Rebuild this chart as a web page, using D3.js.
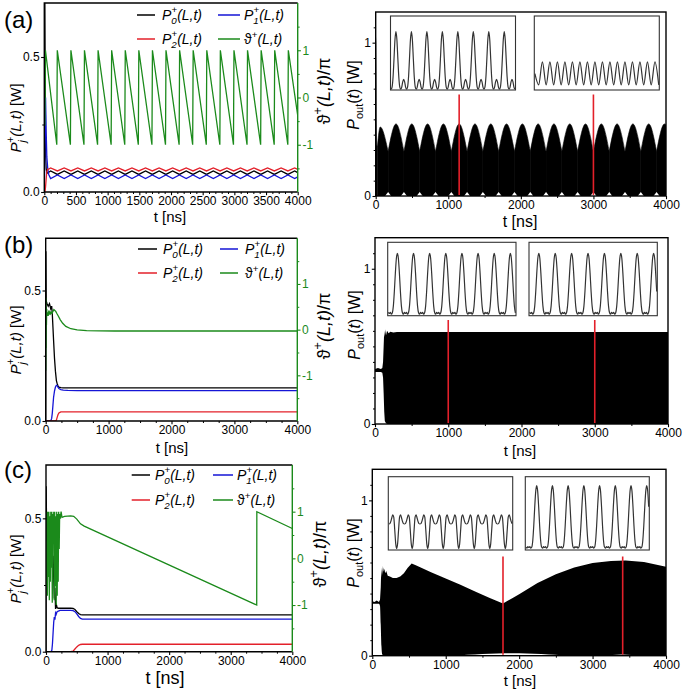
<!DOCTYPE html>
<html><head><meta charset="utf-8">
<script src="https://cdn.jsdelivr.net/npm/d3@7"></script>
<style>body{margin:0;background:#fff}svg{display:block}</style>
</head><body><svg id="c" width="685" height="694"></svg>
<script>
// ================= DATA =================
// ---- panel (a) left ----
const aTimeP = [0,4,8,14,20,30,40,55,70,100,207,314,421,528,635,742,849,956,1063,1170,1277,1384,1491,1598,1705,1812,1919,2026,2133,2240,2347,2454,2561,2668,2775,2882,2989,3096,3203,3310,3417,3524,3631,3738,3845,3952,4000];
const aP0 = [0,0.76,0.76,0.45,0.14,0.085,0.072,0.07,0.073,0.078,0.065,0.078,0.065,0.078,0.065,0.078,0.065,0.078,0.065,0.078,0.065,0.078,0.065,0.078,0.065,0.078,0.065,0.078,0.065,0.078,0.065,0.078,0.065,0.078,0.065,0.078,0.065,0.078,0.065,0.078,0.065,0.078,0.065,0.078,0.065,0.078,0.072];
const aP1 = [0,0.05,0.15,0.3,0.35,0.22,0.13,0.085,0.065,0.05,0.063,0.05,0.063,0.05,0.063,0.05,0.063,0.05,0.063,0.05,0.063,0.05,0.063,0.05,0.063,0.05,0.063,0.05,0.063,0.05,0.063,0.05,0.063,0.05,0.063,0.05,0.063,0.05,0.063,0.05,0.063,0.05,0.063,0.05,0.063,0.05,0.056];
const aP2 = [0,0,0,0.005,0.02,0.05,0.075,0.085,0.085,0.089,0.078,0.089,0.078,0.089,0.078,0.089,0.078,0.089,0.078,0.089,0.078,0.089,0.078,0.089,0.078,0.089,0.078,0.089,0.078,0.089,0.078,0.089,0.078,0.089,0.078,0.089,0.078,0.089,0.078,0.089,0.078,0.089,0.078,0.089,0.078,0.089,0.084];
const aTimeTh = [0,5,10,18,197,205,412,420,626,634,841,849,1055,1063,1270,1278,1484,1492,1699,1707,1913,1921,2128,2136,2342,2350,2557,2565,2771,2779,2986,2994,3200,3208,3415,3423,3629,3637,3844,3852,4000];
const aTheta = [-0.2,0.9,-0.6,1,-1,1,-1,1,-1,1,-1,1,-1,1,-1,1,-1,1,-1,1,-1,1,-1,1,-1,1,-1,1,-1,1,-1,1,-1,1,-1,1,-1,1,-1,1,-0.38];

// ---- panel (b) left ----
const bTimeP = [0,3,8,20,40,60,80,95,105,115,125,140,155,170,180,195,210,240,280,350,500,4000];
const bP0 = [0,0.65,0.46,0.45,0.44,0.45,0.43,0.44,0.41,0.36,0.31,0.24,0.19,0.155,0.145,0.135,0.13,0.128,0.127,0.127,0.127,0.127];
const bP1 = [0,0,0,0,0,0,0,0.01,0.03,0.06,0.09,0.115,0.13,0.137,0.136,0.13,0.124,0.12,0.118,0.117,0.116,0.116];
const bP2 = [0,0,0,0,0,0,0,0,0,0,0,0,0,0.003,0.012,0.024,0.031,0.035,0.035,0.035,0.035,0.035];
const bTimeTh = [0,3,6,9,12,16,20,30,40,50,60,70,80,90,100,115,130,145,160,175,200,230,270,320,400,500,650,850,1100,4000];
const bTheta = [-0.9,0.7,-0.4,0.5,0.1,0.45,0.3,0.38,0.3,0.42,0.33,0.4,0.35,0.38,0.36,0.4,0.44,0.42,0.4,0.36,0.3,0.22,0.14,0.07,0.02,-0.005,-0.02,-0.027,-0.03,-0.03];

// ---- panel (c) left ----
const cTimeP = [0,3,10,20,40,60,80,95,105,115,125,135,145,155,165,180,200,230,300,400,440,470,500,530,560,590,620,4000];
const cP0 = [0,0.62,0.45,0.42,0.4,0.38,0.37,0.36,0.34,0.36,0.28,0.2,0.24,0.16,0.18,0.165,0.163,0.163,0.163,0.163,0.162,0.158,0.15,0.143,0.139,0.138,0.138,0.138];
const cP1 = [0,0,0,0,0,0,0,0.005,0.03,0.07,0.11,0.13,0.12,0.145,0.14,0.15,0.152,0.155,0.155,0.155,0.154,0.15,0.142,0.132,0.125,0.122,0.122,0.122];
const cP2 = [0,0,0,0,0,0,0,0,0,0,0,0,0,0,0,0,0,0,0,0,0.002,0.01,0.018,0.024,0.027,0.028,0.028,0.028];
const cTimeTh = [0,8,15,22,30,38,46,54,62,70,78,86,94,102,110,118,126,134,142,150,158,166,174,182,190,198,206,214,222,232,245,260,300,400,450,500,560,620,3422,3424,4000];
const cTheta = [0.2,-0.6,1,-0.8,1,-0.4,1,-0.9,0.9,-0.5,1,-0.2,1,-0.95,0.95,0.3,1,-0.9,1,-0.6,0.9,-1,1,-0.8,0.95,-0.5,1,0.2,0.95,0.85,1,0.88,0.9,0.91,0.9,0.84,0.74,0.69,-1,1,0.64];

// ---- panel (a) right : output power envelope ----
const aSpikeT = [0,3,6,9,12,16,25];
const aSpikeV = [0.05,0.5,1.04,1.0,0.5,0.33,0.33];
const aHumpT = [25,62,171,280,389,497,606,715,824,933,1042,1150,1259,1368,1477,1586,1694,1803,1912,2021,2130,2238,2347,2456,2565,2674,2782,2891,3000,3109,3218,3326,3435,3544,3653,3762,3870,3979,4000];
const aHumpV = [0.33,0.45,0.29,0.47,0.29,0.47,0.29,0.47,0.29,0.47,0.29,0.47,0.29,0.47,0.29,0.47,0.29,0.47,0.29,0.47,0.29,0.47,0.29,0.47,0.29,0.47,0.29,0.47,0.29,0.47,0.29,0.47,0.29,0.47,0.29,0.47,0.29,0.47,0.465];
const aBumpT = [171,389,606,824,1042,1259,1477,1694,1912,2130,2347,2565,2782,3000,3218,3435,3653,3870];
const aBumpV = [0.026,0.026,0.026,0.026,0.026,0.026,0.026,0.026,0.026,0.026,0.026,0.026,0.026,0.026,0.026,0.026,0.026,0.026];
const aRedT = [1150,3000];

// ---- panel (b) right ----
const bUpT = [0,40,80,100,110,118,126,134,142,150,165,185,210,250,300,4000];
const bUpV = [0.355,0.36,0.355,0.36,0.4,0.5,0.6,0.56,0.61,0.57,0.6,0.585,0.595,0.59,0.593,0.593];
const bLoT = [0,40,80,100,110,118,126,134,150,170,4000];
const bLoV = [0.335,0.335,0.335,0.33,0.3,0.2,0.08,0.02,0.005,0,0];
const bRedT = [1000,3000];

// ---- panel (c) right ----
const cUpT = [0,30,60,90,105,115,122,128,134,140,148,156,165,175,190,210,240,280,330,380,430,480,536,600,800,1000,1200,1400,1600,1780,1850,1900,2000,2250,2500,2750,3000,3250,3450,3700,4000];
const cUpV = [0.35,0.345,0.355,0.345,0.36,0.44,0.57,0.5,0.58,0.52,0.57,0.54,0.56,0.53,0.545,0.515,0.51,0.5,0.5,0.51,0.53,0.565,0.593,0.58,0.538,0.497,0.456,0.414,0.372,0.336,0.355,0.368,0.395,0.468,0.525,0.568,0.596,0.61,0.613,0.603,0.572];
const cLoT = [0,90,105,115,125,135,150,1000,1400,1800,2000,2400,2750,3150,3400,3650,4000];
const cLoV = [0.335,0.335,0.32,0.2,0.06,0.01,0,0,0.008,0.016,0.016,0.008,0,0,0.007,0,0];
const cRedT = [1780,3410];

// ---- inset waveforms (box-relative amplitude, equally spaced samples) ----
const insetAL = [0.01,0.04,0.17,0.42,0.68,
0.79,0.68,0.42,0.17,0.04,0.01,0.04,0.11,0.145,0.11,0.04,0.01,0.04,0.17,0.42,0.68,
0.79,0.68,0.42,0.17,0.04,0.01,0.04,0.11,0.145,0.11,0.04,0.01,0.04,0.17,0.42,0.68,
0.79,0.68,0.42,0.17,0.04,0.01,0.04,0.11,0.145,0.11,0.04,0.01,0.04,0.17,0.42,0.68,
0.79,0.68,0.42,0.17,0.04,0.01,0.04,0.11,0.145,0.11,0.04,0.01,0.04,0.17,0.42,0.68,
0.79,0.68,0.42,0.17,0.04,0.01,0.04,0.11,0.145,0.11,0.04,0.01,0.04,0.17,0.42,0.68,
0.79,0.68,0.42,0.17,0.04,0.01,0.04,0.11,0.145,0.11,0.04,0.01,0.04,0.17,0.42,0.68,
0.79,0.68,0.42,0.17,0.04,0.01,0.04,0.11,0.145,0.11,0.04,0.01,0.04,0.17,0.42,0.68,
0.79,0.68,0.42,0.17,0.04,0.01,0.04,0.11,0.145,0.11,0.04,0.01];
const insetAR = [0.22,0.07,0.38,0.07,0.38,0.07,0.38,0.07,0.38,0.07,0.38,0.07,0.38,0.07,0.38,0.07,0.38,0.07,0.38,0.07,0.38,0.07,0.38,0.07,0.38,0.07,0.38,0.07,0.38,0.07,0.38,0.07,0.38,0.07];
const insetBL = [0.045,0.03,0.045,0.02,0.04,0.13,0.33,0.58,0.78,
0.85,0.78,0.58,0.33,0.13,0.04,0.02,0.045,0.03,0.045,0.02,0.04,0.13,0.33,0.58,0.78,
0.85,0.78,0.58,0.33,0.13,0.04,0.02,0.045,0.03,0.045,0.02,0.04,0.13,0.33,0.58,0.78,
0.85,0.78,0.58,0.33,0.13,0.04,0.02,0.045,0.03,0.045,0.02,0.04,0.13,0.33,0.58,0.78,
0.85,0.78,0.58,0.33,0.13,0.04,0.02,0.045,0.03,0.045,0.02,0.04,0.13,0.33,0.58,0.78,
0.85,0.78,0.58,0.33,0.13,0.04,0.02,0.045,0.03,0.045,0.02,0.04,0.13,0.33,0.58,0.78,
0.85,0.78,0.58,0.33,0.13,0.04,0.02,0.045,0.03,0.045,0.02,0.04,0.13,0.33,0.58,0.78,
0.85,0.78,0.58,0.33,0.13,0.04,0.02,0.045,0.03,0.045,0.02,0.04,0.13,0.33,0.58,0.78,
0.85,0.78,0.58,0.33,0.13,0.04];
const insetBR = [0.045,0.03,0.045,0.02,0.04,0.13,0.33,0.58,0.78,
0.85,0.78,0.58,0.33,0.13,0.04,0.02,0.045,0.03,0.045,0.02,0.04,0.13,0.33,0.58,0.78,
0.85,0.78,0.58,0.33,0.13,0.04,0.02,0.045,0.03,0.045,0.02,0.04,0.13,0.33,0.58,0.78,
0.85,0.78,0.58,0.33,0.13,0.04,0.02,0.045,0.03,0.045,0.02,0.04,0.13,0.33,0.58,0.78,
0.85,0.78,0.58,0.33,0.13,0.04,0.02,0.045,0.03,0.045,0.02,0.04,0.13,0.33,0.58,0.78,
0.85,0.78,0.58,0.33,0.13,0.04,0.02,0.045,0.03,0.045,0.02,0.04,0.13,0.33,0.58,0.78,
0.85,0.78,0.58,0.33,0.13,0.04,0.02,0.045,0.03,0.045,0.02,0.04,0.13,0.33,0.58,0.78,
0.85,0.78,0.58,0.33,0.13,0.04,0.02,0.045,0.03,0.045,0.02,0.04,0.13,0.33,0.58,0.78,
0.85,0.78,0.58,0.33];
const insetCL = [0.355,0.36,0.39,0.44,0.48,0.45,0.28,0.09,
0.02,0.09,0.28,0.45,0.48,0.44,0.39,0.36,0.355,0.36,0.39,0.44,0.48,0.45,0.28,0.09,
0.02,0.09,0.28,0.45,0.48,0.44,0.39,0.36,0.355,0.36,0.39,0.44,0.48,0.45,0.28,0.09,
0.02,0.09,0.28,0.45,0.48,0.44,0.39,0.36,0.355,0.36,0.39,0.44,0.48,0.45,0.28,0.09,
0.02,0.09,0.28,0.45,0.48,0.44,0.39,0.36,0.355,0.36,0.39,0.44,0.48,0.45,0.28,0.09,
0.02,0.09,0.28,0.45,0.48,0.44,0.39,0.36,0.355,0.36,0.39,0.44,0.48,0.45,0.28,0.09,
0.02,0.09,0.28,0.45,0.48,0.44,0.39,0.36,0.355,0.36,0.39,0.44,0.48,0.45,0.28,0.09,
0.02,0.09,0.28,0.45,0.48,0.44,0.39,0.36,0.355,0.36,0.39,0.44,0.48,0.45,0.28,0.09,
0.02,0.09,0.28,0.45,0.48,0.44,0.39,0.36];
const insetCR = [0.04,0.025,0.045,0.035,0.045,0.025,0.04,0.13,0.33,0.59,0.80,
0.88,0.80,0.59,0.33,0.13,0.04,0.025,0.045,0.035,0.045,0.025,0.04,0.13,0.33,0.59,0.80,
0.88,0.80,0.59,0.33,0.13,0.04,0.025,0.045,0.035,0.045,0.025,0.04,0.13,0.33,0.59,0.80,
0.88,0.80,0.59,0.33,0.13,0.04,0.025,0.045,0.035,0.045,0.025,0.04,0.13,0.33,0.59,0.80,
0.88,0.80,0.59,0.33,0.13,0.04,0.025,0.045,0.035,0.045,0.025,0.04,0.13,0.33,0.59,0.80,
0.88,0.80,0.59,0.33,0.13,0.04,0.025,0.045,0.035,0.045,0.025,0.04,0.13,0.33,0.59,0.80,
0.88,0.80,0.59,0.33,0.13,0.04,0.025,0.045,0.035,0.045,0.025,0.04,0.13,0.33,0.59,0.80,
0.88,0.80,0.59,0.33,0.13,0.04,0.025,0.045,0.035,0.045,0.025,0.04,0.13,0.33,0.59,0.80,
0.88,0.80,0.59];

// tick values
const leftYMajor = [0,0.5], leftYMinor = [0.25];
const thetaMajor = [-1,0,1], thetaMinor = [-1.5,-0.5,0.5,1.5];
const xMajorA = [0,500,1000,1500,2000,2500,3000,3500,4000];
const xMajor = [0,1000,2000,3000,4000];
const rightYMajor = [0,1];

// ================= DRAWING =================
const FONT = '"Liberation Sans", Arial, Helvetica, sans-serif';
const BLACK='#000', BLUE='#1515d6', RED='#e3202a', GREEN='#1b8a1b';
const svg = d3.select('#c').style('font-family', FONT);
const defs = svg.append('defs');
let clipN = 0;
function clip(x0,y0,x1,y1){const id='cl'+(clipN++);defs.append('clipPath').attr('id',id).append('rect').attr('x',x0).attr('y',y0).attr('width',x1-x0).attr('height',y1-y0);return `url(#${id})`;}

function axis(g, gen, scale, major, minor, fmt, tr, color){
  if(minor.length){
    const m=g.append('g').attr('transform',tr).call(gen(scale).tickValues(minor).tickSize(2).tickFormat(''));
    m.select('.domain').remove(); m.selectAll('line').attr('stroke',color).attr('stroke-width',1);
  }
  const a=g.append('g').attr('transform',tr).call(gen(scale).tickValues(major).tickSize(3.2).tickPadding(1.5).tickFormat(fmt));
  a.select('.domain').remove();
  a.selectAll('line').attr('stroke',color).attr('stroke-width',1.1);
  a.selectAll('text').attr('fill',color).style('font-family',FONT).style('font-size','12px');
  return a;
}
const minorRange=(step,maj)=>d3.range(0,4001,step).filter(v=>!maj.includes(v));
const fmtTheta = d => d<0 ? '-'+Math.abs(d) : String(d);

function pLabel(t, sub, size, back){
  t.append('tspan').text('P');
  t.append('tspan').attr('dy',size*0.3).style('font-size',(size*0.7)+'px').text(sub);
  t.append('tspan').attr('dx',-back).attr('dy',-size*0.78).style('font-size',(size*0.7)+'px').style('font-style','normal').text('+');
  t.append('tspan').attr('dy',size*0.48).text('(L,t)');
}
function thLabel(t, size){
  t.append('tspan').style('font-style','normal').text('\u03D1');
  t.append('tspan').attr('dy',-size*0.45).style('font-size',(size*0.7)+'px').style('font-style','normal').text('+');
  t.append('tspan').attr('dy',size*0.45).text('(L,t)');
}

function leftPanel(L, D){
  const x=d3.scaleLinear([0,4000],[L.x0,L.x1]);
  const y=d3.scaleLinear([0,0.7],[L.y1,L.y0]);
  const y2=d3.scaleLinear([-2,2],[L.y1,L.y0]);
  const g=svg.append('g');
  const cp=g.append('g').attr('clip-path',clip(L.x0,L.y0,L.x1,L.y1));
  const mk=(ts,vs,yy)=>d3.line().x((v,i)=>x(ts[i])).y(v=>yy(v))(vs);
  cp.append('path').attr('d',mk(D.tP,D.p0,y)).attr('fill','none').attr('stroke',BLACK).attr('stroke-width',1.3);
  cp.append('path').attr('d',mk(D.tP,D.p1,y)).attr('fill','none').attr('stroke',BLUE).attr('stroke-width',1.3);
  cp.append('path').attr('d',mk(D.tP,D.p2,y)).attr('fill','none').attr('stroke',RED).attr('stroke-width',1.3);
  cp.append('path').attr('d',mk(D.tT,D.th,y2)).attr('fill','none').attr('stroke',GREEN).attr('stroke-width',1.3);
  // axes
  axis(g,d3.axisBottom,x,D.xMaj,minorRange(D.xMin,D.xMaj),d=>d,`translate(0,${L.y1})`,'#000');
  axis(g,d3.axisLeft,y,leftYMajor,leftYMinor,d3.format('.1f'),`translate(${L.x0},0)`,'#000');
  axis(g,d3.axisRight,y2,thetaMajor,thetaMinor,fmtTheta,`translate(${L.x1},0)`,GREEN);
  // frame
  g.append('path').attr('d',`M${L.x1},${L.y0}H${L.x0}V${L.y1}H${L.x1}`).attr('fill','none').attr('stroke','#000').attr('stroke-width',1.4);
  g.append('line').attr('x1',L.x1).attr('x2',L.x1).attr('y1',L.y0).attr('y2',L.y1).attr('stroke',GREEN).attr('stroke-width',1.4);
  // legend
  const lg=L.leg, fs=14;
  const rows=[[lg.r1,lg.c1,BLACK,'0'],[lg.r1,lg.c2,BLUE,'1'],[lg.r2,lg.c1,RED,'2'],[lg.r2,lg.c2,GREEN,'th']];
  rows.forEach(([ry,c,col,s])=>{
    g.append('line').attr('x1',c[0]).attr('x2',c[1]).attr('y1',ry).attr('y2',ry).attr('stroke',col).attr('stroke-width',1.5);
    const t=g.append('text').attr('x',c[2]).attr('y',ry+5).style('font-size',fs+'px').style('font-style','italic').attr('fill','#000');
    if(s==='th') thLabel(t,fs); else pLabel(t,s,fs,5.4);
  });
  // labels
  const yl=g.append('text').attr('transform',`translate(${L.ylx},${L.yly}) rotate(-90)`).attr('text-anchor','middle').style('font-size','15px').style('font-style','italic');
  pLabel(yl,'j',15,2.6);
  yl.append('tspan').style('font-style','normal').text(' [W]');
  const yr=g.append('text').attr('transform',`translate(${L.yrx},${L.yry}) rotate(-90)`).attr('text-anchor','middle').style('font-size','18px').style('font-style','italic');
  thLabel(yr,18);
  yr.append('tspan').style('font-style','normal').text('/\u03C0');
  g.append('text').attr('x',L.xlx).attr('y',L.xly).attr('text-anchor','middle').style('font-size',L.xlfs+'px').text('t [ns]');
  g.append('text').attr('x',4).attr('y',L.tagy).style('font-size','24px').text(L.tag);
}

function inset(g, box, vals){
  g.append('rect').attr('x',box[0]).attr('y',box[1]).attr('width',box[2]-box[0]).attr('height',box[3]-box[1]).attr('fill','#fff').attr('stroke','#333').attr('stroke-width',1.1);
  const ix=d3.scaleLinear([0,vals.length-1],[box[0]+0.6,box[2]-0.6]);
  const iy=d3.scaleLinear([0,1],[box[3],box[1]]);
  g.append('path').attr('clip-path',clip(box[0],box[1],box[2],box[3])).attr('d',d3.line().x((v,i)=>ix(i)).y(v=>iy(v)).curve(d3.curveMonotoneX)(vals)).attr('fill','none').attr('stroke','#333').attr('stroke-width',1.2);
}

function rightPanel(R, D, drawFill){
  const x=d3.scaleLinear([0,4000],[R.x0,R.x1]);
  const y=d3.scaleLinear([0,1.2],[R.y1,R.y0]);
  const g=svg.append('g');
  const cp=g.append('g').attr('clip-path',clip(R.x0,R.y0,R.x1,R.y1));
  drawFill(cp,x,y);
  inset(g,R.boxL,D.insL); inset(g,R.boxR,D.insR);
  D.red.forEach(t=>g.append('line').attr('x1',x(t)).attr('x2',x(t)).attr('y1',R.redTop).attr('y2',y(0)-1).attr('stroke',RED).attr('stroke-width',1.6));
  axis(g,d3.axisBottom,x,xMajor,minorRange(500,xMajor),d=>d,`translate(0,${R.y1})`,'#000');
  axis(g,d3.axisLeft,y,rightYMajor,d3.range(1,12).map(i=>i/10).filter(v=>v!==1),d=>d,`translate(${R.x0},0)`,'#000');
  g.append('rect').attr('x',R.x0).attr('y',R.y0).attr('width',R.x1-R.x0).attr('height',R.y1-R.y0).attr('fill','none').attr('stroke','#000').attr('stroke-width',1.4);
  const yl=g.append('text').attr('transform',`translate(${R.ylx},${R.yly}) rotate(-90)`).attr('text-anchor','middle').style('font-size','16px');
  yl.append('tspan').style('font-style','italic').text('P');
  yl.append('tspan').attr('dy',4).style('font-size','11px').text('out');
  yl.append('tspan').attr('dy',-4).text('(');
  yl.append('tspan').style('font-style','italic').text('t');
  yl.append('tspan').text(') [W]');
  g.append('text').attr('x',R.xlx).attr('y',R.xly).attr('text-anchor','middle').style('font-size',R.xlfs+'px').text('t [ns]');
}

const areaFrom=(x,y,ts)=>d3.area().x((v,i)=>x(ts[i])).y0(y(0)).y1(v=>y(v));

// ---- (a) ----
leftPanel({x0:44.3,x1:297.7,y0:3,y1:192,leg:{r1:15,r2:39,c1:[137,155,162],c2:[218,240,244]},
  ylx:21,yly:118,yrx:330,yry:91,xlx:170,xly:222,xlfs:15,tag:'(a)',tagy:28},
  {tP:aTimeP,p0:aP0,p1:aP1,p2:aP2,tT:aTimeTh,th:aTheta,xMaj:xMajorA,xMin:100});
rightPanel({x0:375.7,x1:666,y0:12,y1:196,boxL:[390.5,16,515.5,90],boxR:[534.3,16,659.3,90],redTop:94.5,
  ylx:359,yly:95,xlx:520,xly:227,xlfs:16},
  {insL:insetAL,insR:insetAR,red:aRedT},
  (cp,x,y)=>{
    cp.append('path').attr('d',areaFrom(x,y,aSpikeT)(aSpikeV)).attr('fill','#000');
    for(let i=0;i+2<aHumpT.length;i+=2){
      const ts=aHumpT.slice(i,i+3), vs=aHumpV.slice(i,i+3);
      cp.append('path').attr('d',areaFrom(x,y,ts).curve(d3.curveMonotoneX)(vs)).attr('fill','#000').attr('stroke','#000').attr('stroke-width',0.6);
    }
    aBumpT.forEach((t,i)=>{
      const ts=[t-42,t,t+42], vs=[0,aBumpV[i],0];
      cp.append('path').attr('d',areaFrom(x,y,ts)(vs)).attr('fill','#fff');
    });
  });

// ---- (b) ----
leftPanel({x0:45.7,x1:297.3,y0:238.3,y1:421,leg:{r1:249,r2:273,c1:[138,157,163],c2:[220,238,245]},
  ylx:21,yly:340,yrx:330,yry:326,xlx:172,xly:453,xlfs:15,tag:'(b)',tagy:253},
  {tP:bTimeP,p0:bP0,p1:bP1,p2:bP2,tT:bTimeTh,th:bTheta,xMaj:xMajor,xMin:250});
rightPanel({x0:375,x1:668,y0:237.7,y1:424,boxL:[387.7,242.3,516,315.7],boxR:[529,242.3,657.3,315.7],redTop:320,
  ylx:360,yly:325,xlx:520,xly:456,xlfs:15},
  {insL:insetBL,insR:insetBR,red:bRedT},
  (cp,x,y)=>{
    cp.append('path').attr('d',areaFrom(x,y,bUpT)(bUpV)).attr('fill','#000');
    cp.append('path').attr('d',areaFrom(x,y,bLoT)(bLoV)).attr('fill','#fff');
  });

// ---- (c) ----
leftPanel({x0:46,x1:292.3,y0:465,y1:651.7,leg:{r1:475,r2:500,c1:[131.7,150,155],c2:[213,233,237]},
  ylx:21,yly:569,yrx:326,yry:554,xlx:165,xly:684,xlfs:18,tag:'(c)',tagy:478},
  {tP:cTimeP,p0:cP0,p1:cP1,p2:cP2,tT:cTimeTh,th:cTheta,xMaj:xMajor,xMin:250});
rightPanel({x0:372.3,x1:666,y0:469.3,y1:655.7,boxL:[388.3,476.7,512.7,550],boxR:[525.3,476.7,649.3,550],redTop:556.5,
  ylx:359,yly:553,xlx:520,xly:686,xlfs:15},
  {insL:insetCL,insR:insetCR,red:cRedT},
  (cp,x,y)=>{
    cp.append('path').attr('d',areaFrom(x,y,cUpT)(cUpV)).attr('fill','#000');
    cp.append('path').attr('d',areaFrom(x,y,cLoT).curve(d3.curveMonotoneX)(cLoV)).attr('fill','#fff');
  });
</script></body></html>
